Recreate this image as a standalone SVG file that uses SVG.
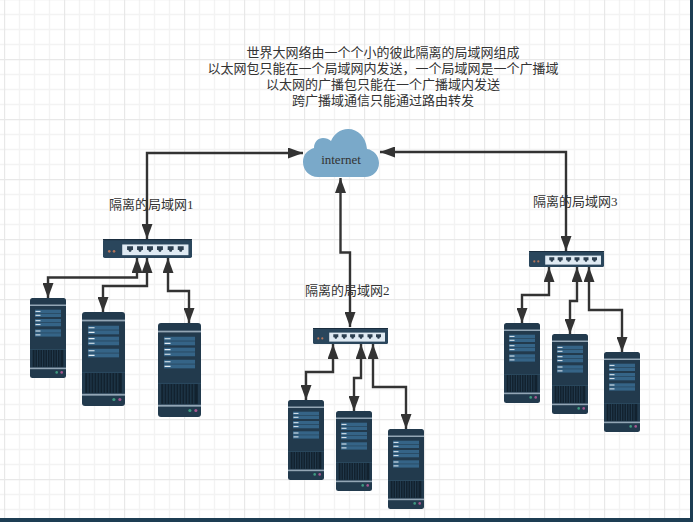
<svg xmlns="http://www.w3.org/2000/svg" xmlns:xlink="http://www.w3.org/1999/xlink" width="693" height="522" viewBox="0 0 693 522">
  <style>
    text { font-family: "Liberation Serif", "Noto Sans CJK SC", serif; font-size: 13px; fill: #333333; }
    .heading { text-anchor: middle; }
    .link { fill: none; stroke: #333333; stroke-width: 2.4; marker-start: url(#head); marker-end: url(#head); }
  </style>
  <defs>
    <pattern id="grid" x="4" y="-1" width="60" height="60" patternUnits="userSpaceOnUse">
      <path d="M15.5 0V60M30.5 0V60M45.5 0V60M0 15.5H60M0 30.5H60M0 45.5H60" fill="none" stroke="#f3f3f3" stroke-width="1.4"/>
      <path d="M0.5 0V60M0 0.5H60" fill="none" stroke="#e8e8e8" stroke-width="1.4"/>
    </pattern>
    <marker id="head" viewBox="0 0 15 11" refX="15" refY="5.5" markerWidth="15" markerHeight="11" markerUnits="userSpaceOnUse" orient="auto-start-reverse">
      <path d="M0 0L15 5.5L0 11Z" fill="#333333"/>
    </marker>
    <symbol id="server" viewBox="0 0 36 80" preserveAspectRatio="none">
      <rect width="36" height="80" rx="2.5" fill="#223a4d"/>
      <rect y="6.5" width="36" height="1.5" fill="#93a6b5"/>
      <g fill="#356487">
        <rect x="5" y="11.7" width="26" height="3.4"/>
        <rect x="5" y="15.6" width="26" height="3.4"/>
        <rect x="5" y="21" width="26" height="3.4"/>
        <rect x="5" y="24.9" width="26" height="3.4"/>
        <rect x="5" y="31.3" width="26" height="3.4"/>
        <rect x="5" y="35.2" width="26" height="3.4"/>
      </g>
      <path d="M5.5 13.4H10.5M5.5 17.3H10.5M5.5 22.7H10.5M5.5 26.6H10.5M5.5 33H10.5M5.5 36.9H10.5" stroke="#e6eef4" stroke-width="1"/>
      <rect y="51" width="36" height="0.6" fill="#2f5068"/>
      <rect x="2.7" y="52" width="30.6" height="16.8" fill="#12222f"/>
      <path d="M5 52V68.8M7.5 52V68.8M10 52V68.8M12.5 52V68.8M15 52V68.8M17.5 52V68.8M20 52V68.8M22.5 52V68.8M25 52V68.8M27.5 52V68.8M30 52V68.8" stroke="#2b4a60" stroke-width="0.6"/>
      <rect y="69.6" width="36" height="1.6" fill="#93a6b5"/>
      <circle cx="26.7" cy="74.4" r="1.3" fill="#3f9a80"/>
      <circle cx="31.7" cy="74.4" r="1.3" fill="#a5578f"/>
    </symbol>
    <symbol id="switch" viewBox="0 0 75 16" preserveAspectRatio="none">
      <rect width="75" height="16" rx="1.5" fill="#2a465c"/>
      <rect width="75" height="1" fill="#1a2d3e"/>
      <rect x="16.2" y="4.6" width="55.8" height="9" fill="#dfeaf3"/>
      <circle cx="5.3" cy="10.4" r="1.1" fill="#b5755a"/>
      <circle cx="9.3" cy="10.4" r="1.1" fill="#b5755a"/>
      <g fill="#2c3f50">
        <path d="M20.3 6.2h5v3h-1.1l-0.6 1.6h-1.6l-0.6-1.6h-1.1z"/>
        <path d="M28.7 6.2h5v3h-1.1l-0.6 1.6h-1.6l-0.6-1.6h-1.1z"/>
        <path d="M37.1 6.2h5v3h-1.1l-0.6 1.6h-1.6l-0.6-1.6h-1.1z"/>
        <path d="M45.5 6.2h5v3h-1.1l-0.6 1.6h-1.6l-0.6-1.6h-1.1z"/>
        <path d="M54.5 6.2h5v3h-1.1l-0.6 1.6h-1.6l-0.6-1.6h-1.1z"/>
        <path d="M63 6.2h5v3h-1.1l-0.6 1.6h-1.6l-0.6-1.6h-1.1z"/>
      </g>
    </symbol>
  </defs>

  <!-- sheet and window edge -->
  <rect width="693" height="522" fill="#ffffff"/>
  <rect width="693" height="522" fill="url(#grid)"/>
  <path d="M690 0H693V522H0V518H690Z" fill="#1d3d53"/>

  <g id="heading">
    <text class="heading" x="383" y="57">世界大网络由一个个小的彼此隔离的局域网组成</text>
    <text class="heading" x="383" y="73">以太网包只能在一个局域网内发送，一个局域网是一个广播域</text>
    <text class="heading" x="383" y="89">以太网的广播包只能在一个广播域内发送</text>
    <text class="heading" x="383" y="105">跨广播域通信只能通过路由转发</text>
  </g>

  <g id="connectors">
    <path class="link" d="M303 153H147V239"/>
    <path class="link" d="M380 152H566V251"/>
    <path class="link" d="M340.5 178V252.5H350V327"/>
    <path class="link" d="M137 258V277.5H48V298"/>
    <path class="link" d="M147 258V286H103V312"/>
    <path class="link" d="M168 258V291H189V323"/>
    <path class="link" d="M333 344V372H306V400"/>
    <path class="link" d="M361 344V378H354V411"/>
    <path class="link" d="M373 344V387H406V429"/>
    <path class="link" d="M549 267V295H522V323"/>
    <path class="link" d="M577 267V301H570V334"/>
    <path class="link" d="M589 267V310H622V352"/>
  </g>

  <g id="internet">
    <path d="M318 177C309 177 303 170 303 162C303 154 308 150 314 148C314 142 318 138 323 138C326 138 329 139 331 141C334 134 340 129 348 129C358 129 366 137 367 149C374 150 379 156 379 163C379 171 373 177 365 177Z" fill="#7aa9c9"/>
    <text x="341" y="164" text-anchor="middle" fill="#1f3a4d">internet</text>
  </g>

  <g id="lan1">
    <text x="109" y="209">隔离的局域网1</text>
    <use id="switch1" href="#switch" x="103" y="239" width="89" height="19"/>
    <use id="server1a" href="#server" x="30" y="298" width="36" height="80"/>
    <use id="server1b" href="#server" x="82" y="312" width="43" height="94"/>
    <use id="server1c" href="#server" x="158" y="323" width="43" height="94"/>
  </g>
  <g id="lan2">
    <text x="305" y="295">隔离的局域网2</text>
    <use id="switch2" href="#switch" x="313" y="328" width="75" height="16"/>
    <use id="server2a" href="#server" x="288" y="400" width="36" height="80"/>
    <use id="server2b" href="#server" x="336" y="411" width="36" height="80"/>
    <use id="server2c" href="#server" x="388" y="429" width="36" height="80"/>
  </g>
  <g id="lan3">
    <text x="533" y="206">隔离的局域网3</text>
    <use id="switch3" href="#switch" x="529" y="251" width="75" height="16"/>
    <use id="server3a" href="#server" x="504" y="323" width="36" height="80"/>
    <use id="server3b" href="#server" x="552" y="334" width="36" height="80"/>
    <use id="server3c" href="#server" x="604" y="352" width="36" height="80"/>
  </g>
</svg>
